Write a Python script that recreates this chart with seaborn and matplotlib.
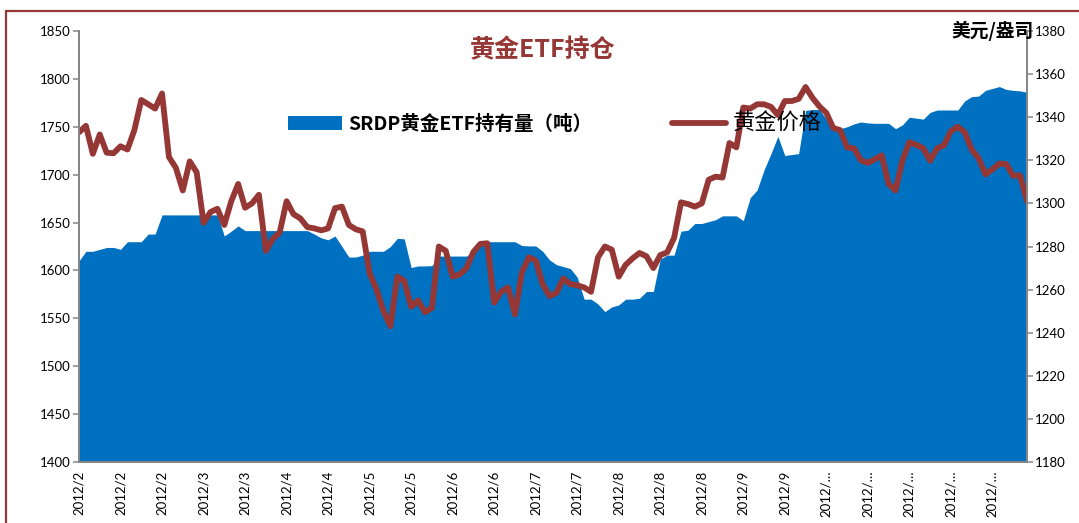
import matplotlib
matplotlib.use("Agg")
import matplotlib.pyplot as plt
import numpy as np
import seaborn as sns
from matplotlib.lines import Line2D
from matplotlib.patches import Patch

# SRDP gold ETF holdings (tonnes)
holdings = [
    1610, 1620, 1620, 1622, 1624, 1624, 1622, 1630, 1630, 1630,
    1638, 1638, 1658, 1658, 1658, 1658, 1658, 1658, 1658, 1658,
    1658, 1636, 1641, 1646.5, 1641.6, 1641.6, 1641.6, 1641.6, 1641.6, 1641.6,
    1641.6, 1641.6, 1641.6, 1641.6, 1638, 1634, 1632, 1636, 1625, 1614,
    1614, 1616, 1620, 1620, 1620, 1625, 1633.5, 1633, 1603, 1604.7,
    1604.7, 1605, 1615, 1615, 1615, 1615, 1615, 1620, 1630, 1630,
    1630, 1630, 1630, 1630, 1626, 1625.6, 1625.6, 1620, 1611, 1606,
    1604, 1602, 1593, 1570, 1570, 1565, 1557, 1562, 1564, 1570,
    1570, 1571, 1578, 1578, 1612, 1616, 1616, 1641, 1642, 1649,
    1649, 1651, 1653, 1657, 1657, 1657, 1652, 1676, 1684, 1705,
    1722, 1740, 1720, 1721, 1722, 1767, 1768, 1768, 1758, 1752,
    1748, 1750, 1753, 1755, 1754, 1753.6, 1753.6, 1753.6, 1748, 1752,
    1760, 1759, 1758, 1765, 1767.5, 1767.5, 1767.5, 1767.5, 1777, 1781.5,
    1782, 1788, 1790, 1792, 1789, 1788, 1787.5, 1786,
]

# gold price (USD/oz)
price = [
    1333, 1336, 1323, 1332, 1323.5, 1323.3, 1326.5, 1325, 1334, 1348,
    1346, 1344, 1351, 1321.5, 1316.5, 1306, 1319.5, 1314.5, 1291, 1296,
    1297.5, 1290, 1301, 1309, 1298, 1300, 1304, 1278, 1283.5, 1286.5,
    1301, 1295, 1293, 1289, 1288.4, 1287.5, 1288.4, 1297.8, 1298.5, 1290,
    1288, 1287, 1267.5, 1260, 1250, 1243, 1266, 1264, 1252, 1255,
    1249.5, 1251.5, 1280, 1278, 1266, 1267, 1270, 1277.5, 1281.2, 1281.5,
    1254, 1259, 1261, 1248.5, 1268, 1275, 1273.5, 1262.5, 1257, 1258.5,
    1265.2, 1262.5, 1262, 1261, 1259, 1275, 1280, 1278.5, 1266, 1271.5,
    1274.5, 1277, 1275.5, 1270, 1276, 1277.3, 1284, 1300.5, 1299.7, 1298.5,
    1300, 1311, 1312.4, 1312, 1328, 1326, 1344.5, 1344, 1346, 1346,
    1344.8, 1341, 1347.5, 1347.5, 1348.5, 1354, 1349, 1345, 1342, 1335,
    1334, 1326, 1325.5, 1320, 1318.8, 1320.5, 1322.3, 1309, 1306, 1320,
    1328.4, 1327.2, 1325.6, 1319.8, 1325.5, 1327, 1333.5, 1335.6, 1333, 1325,
    1321, 1313.5, 1315.8, 1318.5, 1318.2, 1312.8, 1313, 1301,
]

tick_labels = [
    "2012/2", "2012/2", "2012/2", "2012/3", "2012/3", "2012/4", "2012/4",
    "2012/5", "2012/5", "2012/6", "2012/6", "2012/7", "2012/7", "2012/8",
    "2012/8", "2012/8", "2012/9", "2012/9", "2012/…", "2012/…", "2012/…",
    "2012/…", "2012/…",
]
tick_step = 6

BLUE = "#0070C0"
RED = "#953735"
GREY = "#868686"

sns.set_theme(style="white")
plt.rcParams["font.family"] = ["Lato", "Noto Sans CJK SC", "DejaVu Sans"]
plt.rcParams["text.color"] = "black"
cjk = ["Noto Sans CJK SC", "DejaVu Sans"]

idx = np.arange(len(price))

fig = plt.figure(figsize=(10.79, 5.23), dpi=100)
ax = fig.add_axes([79 / 1079, 1 - 462 / 523, 948 / 1079, 431 / 523])
ax2 = ax.twinx()

ax.fill_between(idx, 1400, holdings, color=BLUE, linewidth=0)
sns.lineplot(x=idx, y=price, ax=ax2, color=RED, linewidth=4.2,
             solid_joinstyle="round", solid_capstyle="round", legend=False)

ax.set_xlim(0, len(price) - 1)
ax.set_ylim(1400, 1850)
ax.set_yticks(np.arange(1400, 1851, 50))
ax2.set_ylim(1180, 1380)
ax2.set_yticks(np.arange(1180, 1381, 20))
ax.set_xticks(idx[::tick_step][: len(tick_labels)])
ax.set_xticklabels(tick_labels, rotation=90)
ax.set_xlabel("")
ax2.set_ylabel("")

for a in (ax, ax2):
    a.grid(False)
    a.spines["top"].set_visible(False)
    for s in ("left", "right", "bottom"):
        a.spines[s].set_color(GREY)
        a.spines[s].set_linewidth(1.3)
    a.tick_params(axis="both", which="both", direction="out", length=4,
                  width=1.1, color=GREY, labelsize=9.5, labelcolor="black",
                  pad=2)
ax2.tick_params(left=False)
ax.tick_params(right=False)

# outer frame (clipped at right and bottom, as in the source)
fig.add_artist(Line2D([6 / 1079, 6 / 1079], [0, 1 - 11 / 523],
                      color=RED, linewidth=1.6, transform=fig.transFigure))
fig.add_artist(Line2D([6 / 1079, 1], [1 - 11 / 523, 1 - 11 / 523],
                      color=RED, linewidth=1.6, transform=fig.transFigure))

fig.text(543 / 1079, 1 - 50 / 523, "黄金ETF持仓", ha="center", va="center",
         fontsize=18, fontweight="bold", color=RED, family=cjk)
fig.text(1034 / 1079, 1 - 31 / 523, "美元/盎司", ha="right", va="center",
         fontsize=13.5, fontweight="bold", color="black", family=cjk)

handles = [Patch(facecolor=BLUE, edgecolor="none"),
           Line2D([0], [0], color=RED, linewidth=4.2, solid_capstyle="round")]
leg = ax2.legend(handles, ["SRDP黄金ETF持有量（吨）", "黄金价格"],
                 loc="center left", bbox_to_anchor=(288 / 1079, 1 - 123 / 523),
                 bbox_transform=fig.transFigure, ncol=2, frameon=False,
                 borderpad=0, borderaxespad=0, handlelength=2.8,
                 handleheight=0.75, handletextpad=0.3, columnspacing=4.1,
                 prop={"family": cjk, "size": 14})
for t in leg.get_texts():
    t.set_color("black")
leg.get_texts()[0].set_fontweight("bold")
leg.get_texts()[1].set_fontsize(16)
leg.set_zorder(10)

fig.savefig("out.png", dpi=100)
